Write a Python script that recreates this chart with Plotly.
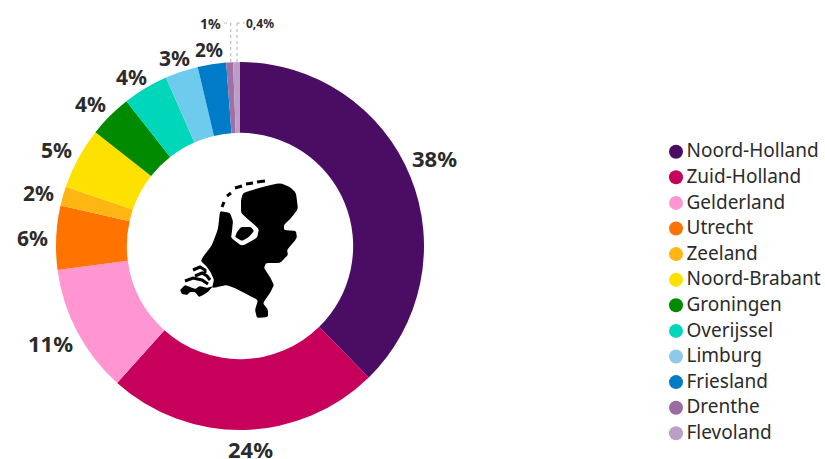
import plotly.graph_objects as go

provinces = ['Noord-Holland', 'Zuid-Holland', 'Gelderland', 'Utrecht', 'Zeeland', 'Noord-Brabant',
             'Groningen', 'Overijssel', 'Limburg', 'Friesland', 'Drenthe', 'Flevoland']
# shares, the printed labels are rounded
shares = [37.7, 24.0, 11.3, 5.6, 1.7, 5.4, 3.8, 4.0, 2.9, 2.5, 0.6, 0.6]
slice_colors = ['#4a0d63', '#c7005c', '#ff96d2', '#ff7300', '#ffb612', '#ffe100',
                '#008a00', '#00d6b9', '#6ecbee', '#007bc7', '#a06fa6', '#b9a0c4']
legend_colors = ['#4a0d63', '#c7005c', '#ff96d2', '#ff7300', '#ffb612', '#ffe100',
                 '#008a00', '#00d6b9', '#8fc9ea', '#007bc7', '#9c6ba3', '#b9a0c4']
share_labels = ['38%', '24%', '11%', '6%', '2%', '5%', '4%', '4%', '3%', '2%']
share_label_x = [434, 250, 50, 32, 38, 56, 90, 131, 174, 209]
share_label_y = [158, 449, 343, 238, 193, 150, 104, 77, 58, 50]
share_label_size = [22, 22, 22, 21, 21, 21, 21, 21, 21, 19]

INK = '#2b2b2b'
FONT = 'Noto Sans'

# the hidden axes keep x/y in window pixels
WIDTH, HEIGHT = 825, 459


# map icon outlines, in window pixels. Corners get only a small rounding
def blob_path(pts, r=0.2):
    d = ''
    n = len(pts)
    for i, p in enumerate(pts):
        prev, nxt = pts[i - 1], pts[(i + 1) % n]
        a = (p[0] + (prev[0] - p[0]) * r, p[1] + (prev[1] - p[1]) * r)
        b = (p[0] + (nxt[0] - p[0]) * r, p[1] + (nxt[1] - p[1]) * r)
        d += f'{"M" if i == 0 else "L"} {a[0]:.1f} {a[1]:.1f} Q {p[0]} {p[1]} {b[0]:.1f} {b[1]:.1f} '
    return d + 'Z'


def line_path(pts):
    return 'M ' + ' L '.join(f'{a} {b}' for a, b in pts)


land = [(243, 193), (262, 187), (280, 183), (290, 187), (296, 193), (298, 209), (291, 218), (284, 225), (284, 230),
        (296, 231), (297, 238), (287, 250), (288, 255), (280, 263), (266, 263), (264, 268), (270, 277),
        (274, 285), (270, 293), (263, 303), (268, 310), (268, 317), (257, 318), (255, 310), (258, 300),
        (248, 295), (235, 288), (226, 285), (218, 287), (212, 288), (214, 280), (211, 273), (207, 267),
        (201, 261), (203, 257), (212, 245), (218, 229), (220, 211), (230, 213), (233, 221), (232, 231),
        (231, 238), (242, 246), (257, 238), (259, 229), (250, 221), (241, 213), (241, 200)]
polder = [(241, 227), (251, 227), (254, 231), (249, 237), (242, 241), (235, 237), (237, 232)]
delta_low = [(180, 290), (185, 285), (190, 287), (195, 289), (200, 286), (207, 288), (213, 286),
             (208, 292), (203, 295), (199, 297), (195, 292), (190, 292), (187, 295), (182, 294)]
islands = [[(222, 207), (224, 202)], [(227, 196), (231, 193)], [(235, 188), (242, 186)],
           [(246, 184), (253, 183)], [(257, 182), (265, 181)]]
delta_lines = [[(193, 270), (200, 267), (205, 270), (205, 273)],
               [(195, 276), (202, 273), (207, 276), (210, 280)],
               [(185, 281), (193, 278), (202, 280), (208, 284)]]

fig = go.Figure()

fig.add_trace(go.Pie(
    labels=provinces,
    values=shares,
    sort=False,
    direction='clockwise',
    rotation=0,
    hole=0.615,
    marker=dict(colors=slice_colors, line=dict(width=0)),
    textinfo='none',
    showlegend=False,
    domain=dict(x=[56 / WIDTH, 424 / WIDTH], y=[1 - 430 / HEIGHT, 1 - 62 / HEIGHT])
))

# legend drawn by hand: the built-in one can't put the text this close to round markers
rows = [151.7 + 25.6 * i for i in range(len(provinces))]
fig.add_trace(go.Scatter(
    x=[676] * len(provinces), y=rows,
    mode='markers',
    marker=dict(size=14, color=legend_colors),
    showlegend=False
))
fig.add_trace(go.Scatter(
    x=[686.5] * len(provinces), y=[r + 1 for r in rows],
    mode='text',
    text=provinces,
    textposition='middle right',
    textfont=dict(family=FONT, size=19, color=INK),
    showlegend=False,
    cliponaxis=False
))

annotations = []
for text, x, y, size in zip(share_labels, share_label_x, share_label_y, share_label_size):
    annotations.append(dict(x=x, y=y, xref='x', yref='y', text=f'<b>{text}</b>', showarrow=False,
                            font=dict(family=FONT, size=size, color=INK)))
annotations.append(dict(x=210, y=23, xref='x', yref='y', text='<b>1%</b>', showarrow=False,
                        font=dict(family=FONT, size=14, color=INK)))
annotations.append(dict(x=260, y=23, xref='x', yref='y', text='<b>0,4%</b>', showarrow=False,
                        font=dict(family=FONT, size=12, color=INK)))

shapes = []
for outline in [land, polder, delta_low]:
    shapes.append(dict(type='path', path=blob_path(outline), fillcolor='black', line=dict(width=0),
                       xref='x', yref='y', layer='above'))
for piece in islands + delta_lines:
    shapes.append(dict(type='path', path=line_path(piece), line=dict(color='black', width=3),
                       xref='x', yref='y', layer='above'))

# dotted leaders to the two smallest slices
leader = dict(color='#bdbdbd', width=1.2, dash='dot')
for x0, y0, x1, y1 in [(230.7, 23, 230.7, 63), (224, 23, 230.7, 23), (237, 23, 237, 63), (237, 23, 245, 23)]:
    shapes.append(dict(type='line', x0=x0, y0=y0, x1=x1, y1=y1, line=leader, xref='x', yref='y', layer='above'))

fig.update_layout(
    width=WIDTH,
    height=HEIGHT,
    margin=dict(l=0, r=0, t=0, b=0),
    paper_bgcolor='white',
    plot_bgcolor='white',
    font=dict(family=FONT, color=INK),
    xaxis=dict(range=[0, WIDTH], visible=False, fixedrange=True),
    yaxis=dict(range=[HEIGHT, 0], visible=False, fixedrange=True),
    showlegend=False,
    annotations=annotations,
    shapes=shapes
)

# drop the page's default 8px body margin so the figure fills the window
fig.write_html('out.html', config=dict(displayModeBar=False), post_script="document.body.style.margin = '0';")
